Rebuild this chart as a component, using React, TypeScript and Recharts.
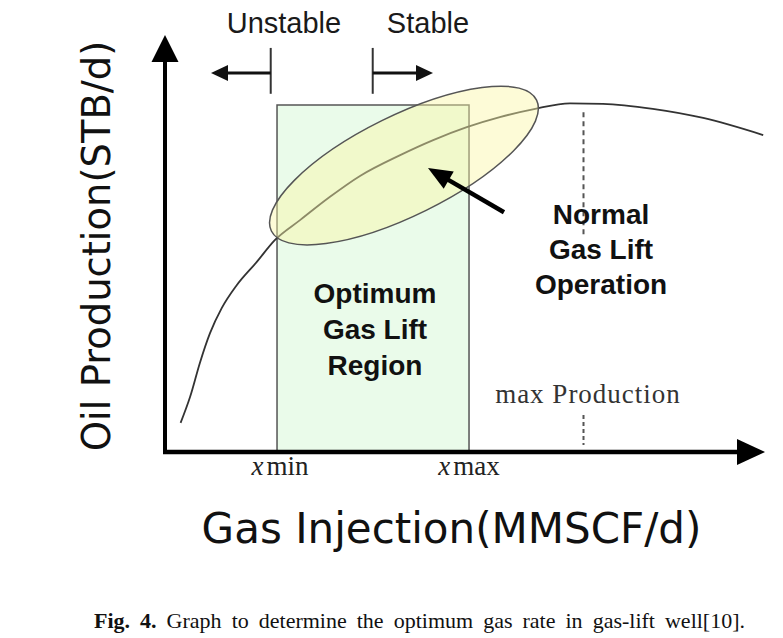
import {
  ComposedChart,
  Line,
  ReferenceArea,
  ReferenceDot,
  ReferenceLine,
  XAxis,
  YAxis,
} from "recharts";

// performance curve (chart units: 0..100 on both axes)
const gasInjection = [2.6, 4.2, 5.8, 7.5, 9.45, 11.95, 15.3, 18.3, 22.5, 27.5, 32.5, 39.2, 44.7, 50.3, 55.8, 61.7, 67.5, 73, 81.3, 89.7, 99.7];
const oilProduction = [7.0, 13.3, 21.3, 28.5, 34.5, 40.0, 45.6, 50.8, 55.6, 61.2, 66.2, 71.2, 74.8, 77.9, 80.3, 82.3, 83.6, 83.5, 82.3, 80.1, 76.0];

// annotated regions
const optimumRegion = [18.67, 50.67]; // x min, x max
const optimumTop = 83.2;
const normalOperationTips = [
  { x: 17.73, y: 53.0 },
  { x: 61.93, y: 84.4 },
];
const maxProductionGas = 69.75;
const unstableEdge = 17.62;
const stableEdge = 34.62;

const curveData = gasInjection.map((gas, i) => ({ gas, oil: oilProduction[i] }));

const SANS = "'Liberation Sans', Arial, sans-serif";
const SERIF = "'Liberation Serif', 'Times New Roman', serif";
const LABEL = "'DejaVu Sans', sans-serif";

const arrow = (head: number, half: number) => (p: any) => {
  const { x1, y1, x2, y2 } = p;
  const dx = x2 - x1;
  const dy = y2 - y1;
  const len = Math.hypot(dx, dy) || 1;
  const ux = dx / len;
  const uy = dy / len;
  const bx = x2 - ux * head;
  const by = y2 - uy * head;
  return (
    <g>
      <line x1={x1} y1={y1} x2={bx + ux} y2={by + uy} stroke={p.stroke} strokeWidth={p.strokeWidth} />
      <polygon
        points={`${x2},${y2} ${bx - uy * half},${by + ux * half} ${bx + uy * half},${by - ux * half}`}
        fill={p.stroke}
      />
    </g>
  );
};

// ellipse spanned by the two ends of its long axis
const ellipse = (ry: number) => (p: any) => {
  const { x1, y1, x2, y2 } = p;
  const cx = (x1 + x2) / 2;
  const cy = (y1 + y2) / 2;
  const rx = Math.hypot(x2 - x1, y2 - y1) / 2;
  const angle = (Math.atan2(y2 - y1, x2 - x1) * 180) / Math.PI;
  return (
    <ellipse
      cx={cx}
      cy={cy}
      rx={rx}
      ry={ry}
      transform={`rotate(${angle} ${cx} ${cy})`}
      fill="#FAF6A6"
      fillOpacity={0.45}
      stroke="#555"
      strokeWidth={1.5}
    />
  );
};

const textAt =
  (lines: string[], style: any, lineHeight = 0, rotate = 0) =>
  (p: any) => (
    <text
      x={p.cx}
      y={p.cy}
      textAnchor="middle"
      transform={rotate ? `rotate(${rotate} ${p.cx} ${p.cy})` : undefined}
      {...style}
    >
      {lines.map((l, i) => (
        <tspan key={l} x={p.cx} dy={i ? lineHeight : 0}>
          {l}
        </tspan>
      ))}
    </text>
  );

const xTick = (word: string) => (p: any) => (
  <text x={p.cx} y={p.cy} textAnchor="middle" fontFamily={SERIF} fontSize={27} fill="#222">
    <tspan fontStyle="italic">x</tspan>
    <tspan dx={3}>{word}</tspan>
  </text>
);

const boldText = { fontFamily: SANS, fontSize: 28, fontWeight: 700, fill: "#111" };

export default function App() {
  return (
    <div style={{ position: "absolute", left: 0, top: 0, width: 783, height: 638, background: "#fff" }}>
      <ComposedChart
        width={783}
        height={600}
        data={curveData}
        margin={{ top: 35, right: 18, bottom: 148, left: 165 }}
      >
        <XAxis dataKey="gas" type="number" domain={[0, 100]} hide allowDataOverflow />
        <YAxis type="number" domain={[0, 100]} hide allowDataOverflow />

        <ReferenceArea
          x1={optimumRegion[0]}
          x2={optimumRegion[1]}
          y1={0}
          y2={optimumTop}
          fill="#EAFBEA"
          fillOpacity={1}
          stroke="#555"
          strokeWidth={1.5}
          ifOverflow="visible"
        />

        <Line
          dataKey="oil"
          type="monotone"
          stroke="#333"
          strokeWidth={1.8}
          dot={false}
          activeDot={false}
          isAnimationActive={false}
        />

        <ReferenceLine segment={normalOperationTips} stroke="#555" shape={ellipse(50)} ifOverflow="visible" />

        {/* max production marker */}
        <ReferenceLine
          segment={[{ x: maxProductionGas, y: 81.5 }, { x: maxProductionGas, y: 52 }]}
          stroke="#555"
          strokeWidth={2}
          strokeDasharray="5 4"
          ifOverflow="visible"
        />
        <ReferenceLine
          segment={[{ x: maxProductionGas, y: 8.9 }, { x: maxProductionGas, y: 1.7 }]}
          stroke="#555"
          strokeWidth={2}
          strokeDasharray="4 3"
          ifOverflow="visible"
        />

        {/* axes with arrow heads */}
        <ReferenceLine
          segment={[{ x: 0, y: -0.5 }, { x: 0, y: 100 }]}
          stroke="#000"
          strokeWidth={4}
          shape={arrow(27, 13.5)}
          ifOverflow="visible"
        />
        <ReferenceLine
          segment={[{ x: -0.33, y: 0 }, { x: 100, y: 0 }]}
          stroke="#000"
          strokeWidth={4.5}
          shape={arrow(28, 13)}
          ifOverflow="visible"
        />

        {/* unstable / stable brackets */}
        <ReferenceLine
          segment={[{ x: unstableEdge, y: 96.9 }, { x: unstableEdge, y: 85.9 }]}
          stroke="#333"
          strokeWidth={2}
          ifOverflow="visible"
        />
        <ReferenceLine
          segment={[{ x: unstableEdge, y: 90.9 }, { x: 7.67, y: 90.9 }]}
          stroke="#111"
          strokeWidth={3}
          shape={arrow(17, 8)}
          ifOverflow="visible"
        />
        <ReferenceLine
          segment={[{ x: stableEdge, y: 96.9 }, { x: stableEdge, y: 85.9 }]}
          stroke="#333"
          strokeWidth={2}
          ifOverflow="visible"
        />
        <ReferenceLine
          segment={[{ x: stableEdge, y: 90.9 }, { x: 44.67, y: 90.9 }]}
          stroke="#111"
          strokeWidth={3}
          shape={arrow(17, 8)}
          ifOverflow="visible"
        />

        {/* pointer to the normal operation ellipse */}
        <ReferenceLine
          segment={[{ x: 56.5, y: 57.5 }, { x: 43.83, y: 68.1 }]}
          stroke="#000"
          strokeWidth={4.5}
          shape={arrow(24, 10)}
          ifOverflow="visible"
        />

        {/* texts */}
        <ReferenceDot
          x={19.83}
          y={100.5}
          r={1}
          ifOverflow="visible"
          shape={textAt(["Unstable"], { fontFamily: SANS, fontSize: 29, fill: "#1a1a1a" })}
        />
        <ReferenceDot
          x={43.83}
          y={100.5}
          r={1}
          ifOverflow="visible"
          shape={textAt(["Stable"], { fontFamily: SANS, fontSize: 29, fill: "#1a1a1a" })}
        />
        <ReferenceDot
          x={35}
          y={35.7}
          r={1}
          ifOverflow="visible"
          shape={textAt(["Optimum", "Gas Lift", "Region"], boldText, 36)}
        />
        <ReferenceDot
          x={72.67}
          y={54.7}
          r={1}
          ifOverflow="visible"
          shape={textAt(["Normal", "Gas Lift", "Operation"], boldText, 35)}
        />
        <ReferenceDot
          x={70.5}
          y={11.75}
          r={1}
          ifOverflow="visible"
          shape={textAt(["max Production"], { fontFamily: SERIF, fontSize: 27, letterSpacing: 1, fill: "#333" })}
        />
        <ReferenceDot x={optimumRegion[0] + 0.5} y={-5.5} r={1} ifOverflow="visible" shape={xTick("min")} />
        <ReferenceDot x={optimumRegion[1]} y={-5.5} r={1} ifOverflow="visible" shape={xTick("max")} />
        <ReferenceDot
          x={-9.17}
          y={49.4}
          r={1}
          ifOverflow="visible"
          shape={textAt(["Oil Production(STB/d)"], { fontFamily: LABEL, fontSize: 38.5, fill: "#111" }, 0, -90)}
        />
        <ReferenceDot
          x={47.75}
          y={-21.8}
          r={1}
          ifOverflow="visible"
          shape={textAt(["Gas Injection(MMSCF/d)"], { fontFamily: LABEL, fontSize: 42, fill: "#111" })}
        />
      </ComposedChart>
      <div
        style={{
          position: "absolute",
          left: 94,
          top: 610,
          width: 651,
          fontFamily: SERIF,
          fontSize: 22,
          lineHeight: "22px",
          color: "#111",
          textAlign: "justify",
          textAlignLast: "justify",
          whiteSpace: "nowrap",
        }}
      >
        <b>Fig. 4.</b> Graph to determine the optimum gas rate in gas-lift well[10].
      </div>
    </div>
  );
}
